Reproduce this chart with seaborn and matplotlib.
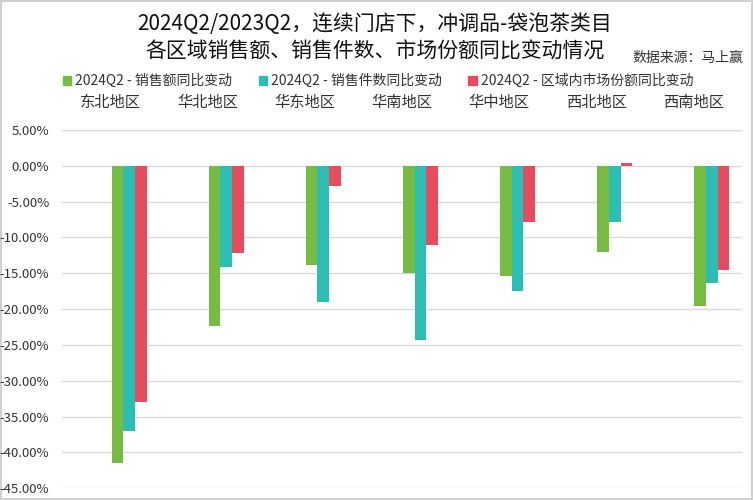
import numpy as np
import pandas as pd
import matplotlib
matplotlib.use("Agg")
import matplotlib.pyplot as plt
from matplotlib.ticker import FuncFormatter
import seaborn as sns

# data (percent change, 2024Q2 vs 2023Q2)
regions = ["东北地区", "华北地区", "华东地区", "华南地区", "华中地区", "西北地区", "西南地区"]
series = ["2024Q2 - 销售额同比变动", "2024Q2 - 销售件数同比变动", "2024Q2 - 区域内市场份额同比变动"]
sales_amount = [-41.4, -22.4, -13.9, -14.9, -15.4, -12.0, -19.6]
sales_units = [-37.0, -14.1, -19.0, -24.3, -17.5, -7.9, -16.4]
market_share = [-33.0, -12.2, -2.8, -11.1, -7.8, 0.4, -14.5]
colors = ["#76BC42", "#2CBEB4", "#E64C5E"]

df = pd.DataFrame({
    "region": regions * 3,
    "series": [series[0]] * 7 + [series[1]] * 7 + [series[2]] * 7,
    "value": sales_amount + sales_units + market_share,
})

sns.set_style("white")
plt.rcParams["font.family"] = ["Noto Sans CJK SC", "DejaVu Sans"]

fig = plt.figure(figsize=(7.53, 5), dpi=100)
ax = fig.add_axes([62 / 753, 1 - 488.3 / 500, 680 / 753, (488.3 - 130) / 500])

sns.barplot(data=df, x="region", y="value", hue="series", order=regions,
            hue_order=series, palette=colors, width=0.36, gap=0,
            saturation=1, edgecolor="none", linewidth=0, legend=False, ax=ax)

ax.set_ylim(-45, 5)
ax.set_yticks(np.arange(-45, 5.1, 5))
ax.yaxis.set_major_formatter(FuncFormatter(lambda v, p: f"{v:.2f}%"))
ax.grid(axis="y", color="#d9d9d9", linewidth=1)
ax.set_axisbelow(True)
for s in ax.spines.values():
    s.set_visible(False)

# category labels sit on top, a bit left of the bar groups
ax.set_xlim(-0.69, 6.31)
ax.xaxis.tick_top()
ax.set_xticks(np.arange(len(regions)) - 0.19)
ax.set_xticklabels(regions, fontsize=11, color="#333333")
ax.tick_params(axis="x", length=0, pad=14)
ax.tick_params(axis="y", length=0, pad=9, labelsize=9.5, labelcolor="#333333")
ax.set_xlabel("")
ax.set_ylabel("")

fig.text(0.498, 1 - 24 / 500, "2024Q2/2023Q2，连续门店下，冲调品-袋泡茶类目",
         ha="center", va="center", fontsize=15, color="#111111")
fig.text(0.498, 1 - 52 / 500, "各区域销售额、销售件数、市场份额同比变动情况",
         ha="center", va="center", fontsize=15, color="#111111")
fig.text(743 / 753, 1 - 58 / 500, "数据来源：马上赢", ha="right", va="center",
         fontsize=10, color="#333333")

handles = [plt.Rectangle((0, 0), 1, 1, color=c) for c in colors]
fig.legend(handles, series, ncol=3, loc="center", bbox_to_anchor=(378 / 753, 1 - 81 / 500),
           frameon=False, fontsize=10, handlelength=0.6, handleheight=0.6,
           handletextpad=0.3, columnspacing=1.9, labelcolor="#333333")

fig.patch.set_edgecolor("#d0d0d0")
fig.patch.set_linewidth(1.5)
plt.savefig("out.png", dpi=100, edgecolor=fig.get_edgecolor())
